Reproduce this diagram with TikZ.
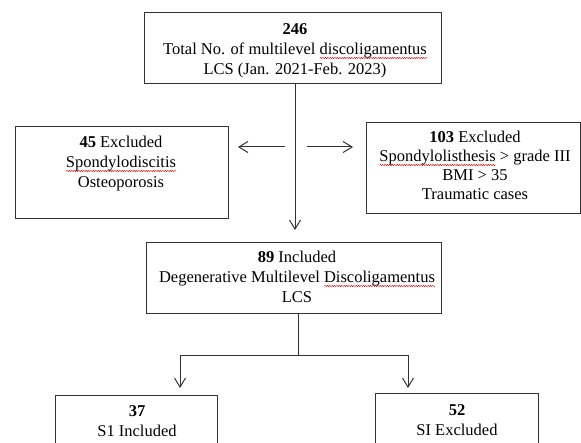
\documentclass[tikz,border=0pt]{standalone}
\usepackage{fontspec}
\setmainfont{Liberation Serif}
\usetikzlibrary{arrows.meta,decorations.pathmorphing}
\newsavebox\sqbox
\newdimen\sqwd
\newcommand\squig[1]{\sbox\sqbox{#1}\sqwd=\wd\sqbox\rlap{\raisebox{-3pt}{\tikz[baseline=0pt,x=1pt,y=1pt]\draw[red!85!black,line width=0.45pt,decorate,decoration={snake,amplitude=0.6pt,segment length=2.4pt}] (0,0)--(\sqwd,0);}}\usebox\sqbox}
\tikzset{
  box/.style={draw=black!80,line width=1pt,rectangle,inner sep=0pt,anchor=north west},
  txt/.style={anchor=base,inner sep=0pt,font=\fontsize{16.5}{20}\selectfont},
  conn/.style={draw=black!80,line width=1pt},
  arr/.style={conn,-{Straight Barb[length=9pt,width=11pt]}}
}
\begin{document}
\begin{tikzpicture}[x=1pt,y=-1pt]
\useasboundingbox (0,0) rectangle (581,443);
\clip (0,0) rectangle (581,443);
% boxes
\node[box,minimum width=297pt,minimum height=71pt] (top) at (144,12) {};
\node[box,minimum width=213pt,minimum height=92pt] (left) at (15,126) {};
\node[box,minimum width=214pt,minimum height=91pt] (right) at (366,122) {};
\node[box,minimum width=295pt,minimum height=71pt] (mid) at (146,242) {};
\node[box,minimum width=162pt,minimum height=80pt] (bl) at (55,395) {};
\node[box,minimum width=163pt,minimum height=80pt] (br) at (375,393) {};
% texts
\node[txt] (toptxt) at (295,35) {\begin{tabular}[t]{@{}c@{}}\textbf{246}\\Total No. of multilevel \squig{discoligamentus}\\LCS (Jan. 2021-Feb. 2023)\end{tabular}};
\node[txt] (lefttxt) at (121,148) {\begin{tabular}[t]{@{}c@{}}\textbf{45} Excluded\\\squig{Spondylodiscitis}\\Osteoporosis\end{tabular}};
\node[txt,font=\fontsize{16.5}{19}\selectfont] (righttxt) at (475,143) {\begin{tabular}[t]{@{}c@{}}\textbf{103} Excluded\\\squig{Spondylolisthesis} {>} grade III\\BMI {>} 35\\Traumatic cases\end{tabular}};
\node[txt] (midtxt) at (297,263) {\begin{tabular}[t]{@{}c@{}}\textbf{89} Included\\Degenerative Multilevel\ \squig{Discoligamentus}\\LCS\end{tabular}};
\node[txt] (bltxt) at (137,417) {\begin{tabular}[t]{@{}c@{}}\textbf{37}\\S1 Included\end{tabular}};
\node[txt] (brtxt) at (457,416) {\begin{tabular}[t]{@{}c@{}}\textbf{52}\\SI Excluded\end{tabular}};
% connector coordinates
\coordinate (vtop) at (295,83);
\coordinate (vtip) at (295,230);
\coordinate (ltail) at (285,147);
\coordinate (ltip) at (238,147);
\coordinate (rtail) at (307,147);
\coordinate (rtip) at (353,147);
\coordinate (msrc) at (298,313);
\coordinate (jn) at (298,356);
\coordinate (bltip) at (180,388);
\coordinate (brtip) at (408,388);
% connectors
\draw[arr] (vtop) -- (vtip);
\draw[arr] (ltail) -- (ltip);
\draw[arr] (rtail) -- (rtip);
\draw[conn] (msrc) -- (jn);
\draw[arr] (jn) -| (bltip);
\draw[arr] (jn) -| (brtip);
\end{tikzpicture}
\end{document}
